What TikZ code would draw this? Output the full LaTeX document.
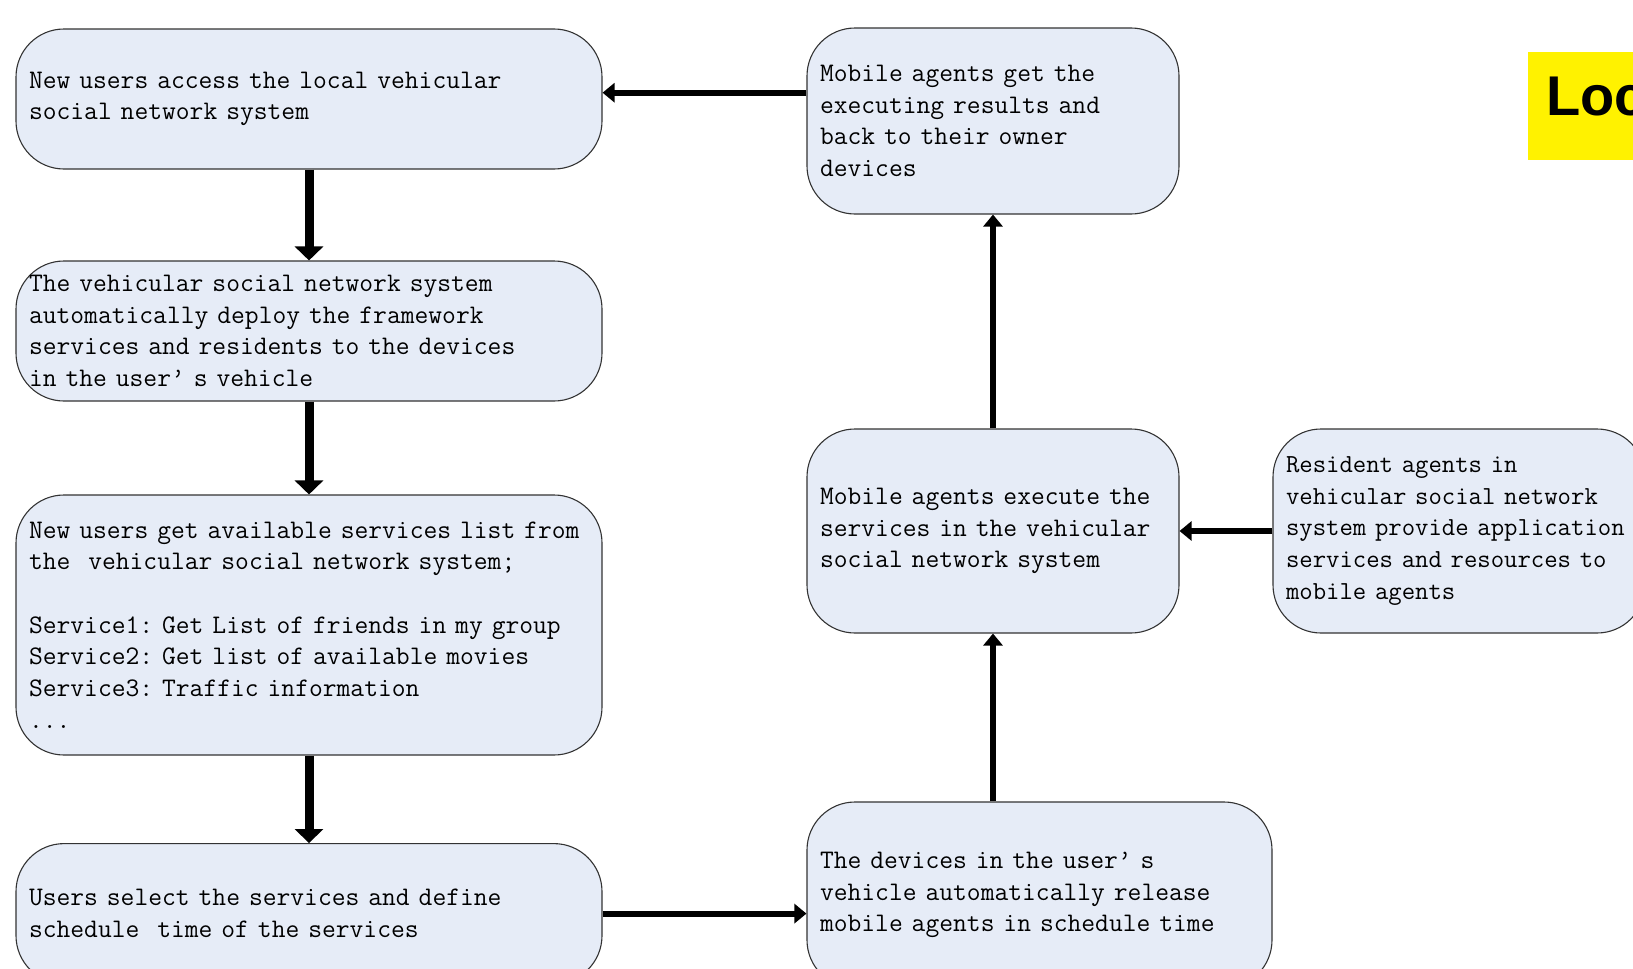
\documentclass[tikz,border=0pt]{standalone}
\usepackage{fontspec}
\newfontfamily\titlefont{Liberation Sans}
\usetikzlibrary{arrows.meta}
\definecolor{boxfill}{RGB}{230,236,247}
\begin{document}
\begin{tikzpicture}[x=1pt,y=-1pt,
  box/.style={draw=black!80, line width=1.1pt, fill=boxfill, rounded corners=48pt,
    inner xsep=13pt, inner ysep=0pt, align=left,
    font=\ttfamily\fontsize{26.8}{31.7}\selectfont\frenchspacing},
  thickarrow/.style={line width=9pt, -{Triangle[width=28pt,length=14pt]}},
  thinarrow/.style={line width=6pt, -{Triangle[width=19pt,length=12pt]}}]
\useasboundingbox (0,0) rectangle (1633,969);
\clip (0,0) rectangle (1633,969);
% left column
\node[box, text width=560pt, minimum height=140pt] (A) at (309,99)
  {New users access the local vehicular\\social network system};
\node[box, text width=560pt, minimum height=140pt] (B) at (309,331)
  {The vehicular social network system\\automatically deploy the framework\\services and residents to the devices\\in the user’ s vehicle};
\node[box, text width=560pt, minimum height=260pt] (C) at (309,625)
  {New users get available services list from\\the\ \ vehicular social network system;\\[31.7pt]Service1: Get List of friends in my group\\Service2: Get list of available movies\\Service3: Traffic information\\...};
\node[box, text width=560pt, minimum height=140pt] (D) at (309,913.6)
  {Users select the services and define\\schedule\ \ time of the services};
% right column
\node[box, text width=346pt, minimum height=186pt] (E) at (993,121)
  {Mobile agents get the\\executing results and\\back to their owner\\devices};
\node[box, text width=346pt, minimum height=204pt] (F) at (993,531)
  {Mobile agents execute the\\services in the vehicular\\social network system};
\node[box, text width=346pt, minimum height=204pt,
      font=\ttfamily\fontsize{26}{31.7}\selectfont\frenchspacing] (G) at (1459,531)
  {Resident agents in\\vehicular social network\\\mbox{system provide application}\\services and resources to\\mobile agents};
\node[box, text width=439pt, minimum height=186pt] (H) at (1039.5,895)
  {The devices in the user’ s\\vehicle automatically release\\mobile agents in schedule time};
% yellow title
\node[fill=yellow, anchor=north west, minimum width=200pt, minimum height=108pt, inner sep=0pt] (ybox) at (1528,52) {};
\node[anchor=base west, inner sep=0pt, font=\titlefont\bfseries\fontsize{56}{60}\selectfont] (loc) at (1546,115) {Loc};
% connectors
\draw[thickarrow] (A.south) -- (B.north);
\draw[thickarrow] (B.south) -- (C.north);
\draw[thickarrow] (C.south) -- (D.north);
\draw[thinarrow] (D.east) -- (D.east -| H.west);
\draw[thinarrow] (H.north -| F.south) -- (F.south);
\draw[thinarrow] (F.north) -- (E.south);
\draw[thinarrow] (G.west) -- (F.east);
\draw[thinarrow] ([yshift=28.3pt]E.west) -- ([yshift=28.3pt]E.west -| A.east);
\end{tikzpicture}
\end{document}
